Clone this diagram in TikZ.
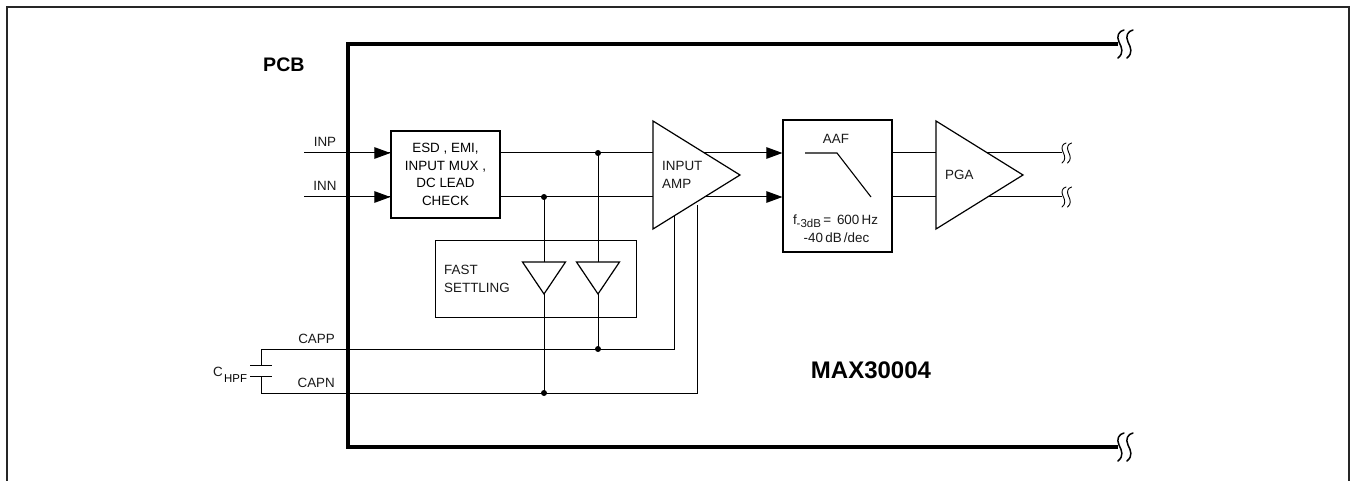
\documentclass[tikz,border=0pt]{standalone}
\usepackage{fontspec}
\setmainfont{Liberation Sans}
\usetikzlibrary{arrows.meta}
\tikzset{
  x=1pt,y=-1pt,
  wire/.style={line width=1pt,black},
  sig/.style={wire,-{Triangle[length=16pt,width=11.5pt]}},
  frame/.style={line width=3.2pt,black,line cap=butt},
  blockbox/.style={draw=black,line width=1.2pt,fill=white,inner sep=0pt,align=center,font=\lab},
  thinbox/.style={draw=black,line width=1pt,fill=white,inner sep=0pt},
  tri/.style={draw=black,line width=1.2pt,fill=white,line join=miter},
  lbl/.style={inner sep=0pt,font=\lab,text=black!90},
  lblb/.style={inner sep=0pt,text=black},
  dot/.style={circle,fill=black,inner sep=0pt,minimum size=6pt},
  breakmark/.pic={\foreach \d in {0,1}{\draw[line width=1.5pt,black,line cap=round,xshift=\d*9pt]
     (3,-14) .. controls (-2,-13) and (-5,-8) .. (-2,-2) .. controls (1,4) and (3,9) .. (-3,14);}},
  smallbreak/.pic={\foreach \d in {0,1}{\draw[line width=0.9pt,black,line cap=round,xshift=\d*5.5pt]
     (2,-10) .. controls (-2,-9) and (-3,-5) .. (-1,-1) .. controls (1,3) and (2,7) .. (-2,10);}},
}
\newcommand{\lab}{\fontsize{13.4}{17.7}\selectfont}
\begin{document}
\begin{tikzpicture}
\useasboundingbox (0,0) rectangle (1351,481);
% outer frame
\coordinate (fbl) at (7,481); \coordinate (ftl) at (7,7); \coordinate (ftr) at (1349,7); \coordinate (fbr) at (1349,481);
\draw[line width=1.8pt,black!85] (fbl) -- (ftl) -- (ftr) -- (fbr);
% PCB frame
\coordinate (pt) at (1118,44); \coordinate (ptl) at (348,44); \coordinate (pbl) at (348,447); \coordinate (pb) at (1118,447);
\draw[frame,line join=miter] (pt) -- (ptl) -- (pbl) -- (pb);
\pic at (1121,44) {breakmark};
\pic at (1121,447) {breakmark};
\node[lblb,font=\bfseries\fontsize{19.6}{22}\selectfont,anchor=base west] (pcb) at (263,72) {PCB};
\node[lblb,font=\bfseries\fontsize{24}{26}\selectfont,anchor=base] (maxn) at (871,378) {MAX30004};

% free ends and junctions
\coordinate (inp) at (304,153); \coordinate (inn) at (304,197);
\coordinate (j1) at (598,153); \coordinate (j2) at (544,197);
\coordinate (j3) at (598,349); \coordinate (j4) at (544,393);
\coordinate (capl1) at (261,349); \coordinate (capl2) at (261,393);
\coordinate (capa) at (261,365); \coordinate (capb) at (261,376);
\coordinate (c1l) at (250,365); \coordinate (c1r) at (272,365);
\coordinate (c2l) at (250,376); \coordinate (c2r) at (272,376);
\coordinate (capp2) at (674,349); \coordinate (capn2) at (697,393);
\coordinate (capp3) at (674,205); \coordinate (capn3) at (697,205);
\coordinate (pe1) at (1062,153); \coordinate (pe2) at (1062,197);

% nodes for boxes
\node[thinbox,minimum width=201pt,minimum height=77pt] (fast) at (535.5,278.5) {};
\node[blockbox,minimum width=109pt,minimum height=87pt] (esd) at (445.5,174.5) {ESD , EMI,\\INPUT MUX ,\\DC LEAD\\CHECK};
\node[blockbox,minimum width=109pt,minimum height=132pt] (aaf) at (837.5,186) {};

% wires
\draw[wire] (inp) -- (inp-|esd.west);
\draw[wire] (inn) -- (inn-|esd.west);
\draw[sig] (375,153) -- (inp-|esd.west);
\draw[sig] (375,197) -- (inn-|esd.west);
\draw[wire] (esd.east|-inp) -- (653,153);
\draw[wire] (esd.east|-inn) -- (653,197);
\draw[wire] (j1) -- (j3);
\draw[wire] (j2) -- (j4);
\draw[wire] (capa) -- (capl1) -- (capp2) -- (capp3);
\draw[wire] (capb) -- (capl2) -- (capn2) -- (capn3);
\draw[wire] (c1l) -- (c1r);
\draw[wire] (c2l) -- (c2r);
\draw[sig] (700,153) -- (aaf.west|-j1);
\draw[sig] (700,197) -- (aaf.west|-j2);
\draw[wire] (aaf.east|-j1) -- (pe1);
\draw[wire] (aaf.east|-j2) -- (pe2);
\foreach \p in {j1,j2,j3,j4}{\node[dot] at (\p) {};}
\pic at (1064,153) {smallbreak};
\pic at (1064,197) {smallbreak};

% triangles
\coordinate (a1) at (653,121); \coordinate (a2) at (653,229); \coordinate (a3) at (740,175);
\draw[tri] (a1) -- (a3) -- (a2) -- cycle;
\coordinate (b1) at (936,121); \coordinate (b2) at (936,229); \coordinate (b3) at (1023,175);
\draw[tri] (b1) -- (b3) -- (b2) -- cycle;
\coordinate (s1) at (522.5,262); \coordinate (s2) at (565.5,262); \coordinate (s3) at (544,294);
\draw[tri] (s1) -- (s2) -- (s3) -- cycle;
\coordinate (t1) at (576.5,262); \coordinate (t2) at (619.5,262); \coordinate (t3) at (598,294);
\draw[tri] (t1) -- (t2) -- (t3) -- cycle;
% filter curve
\coordinate (f1) at (805,153); \coordinate (f2) at (837,153); \coordinate (f3) at (871,197);
\draw[line width=1.1pt,black] (f1) -- (f2) -- (f3);
% wires through fast box below triangles
\draw[wire] (s3) -- (j4);
\draw[wire] (t3) -- (j3);

% labels
\node[lbl,anchor=base] (linp) at (325,147) {INP};
\node[lbl,anchor=base] (linn) at (325,191) {INN};
\node[lbl,anchor=base east] (lcapp) at (335,343.5) {CAPP};
\node[lbl,anchor=base east] (lcapn) at (335,387) {CAPN};
\node[lbl,anchor=base west] (lc) at (213,376) {C};
\node[inner sep=0pt,font=\fontsize{11.4}{13}\selectfont,anchor=base west] (lhpf) at (224,382) {HPF};
\node[lbl,anchor=base west] (lf1) at (444,274) {FAST};
\node[lbl,anchor=base west] (lf2) at (444,292) {SETTLING};
\node[lbl,anchor=base west] (la1) at (662,171) {INPUT};
\node[lbl,anchor=base west] (la2) at (662,189) {AMP};
\node[lbl,anchor=base west] (lpga) at (945,180) {PGA};
\node[lbl,anchor=base] (laaf) at (836,144) {AAF};
\node[lbl,anchor=base] (lcut) at (835.5,224.5) {f\raisebox{-2.5pt}{\fontsize{11.5}{12}\selectfont -3dB}\,= \,600\,Hz};
\node[lbl,anchor=base] (lroll) at (836.5,242) {-40\,dB\,/dec};
\end{tikzpicture}
\end{document}
